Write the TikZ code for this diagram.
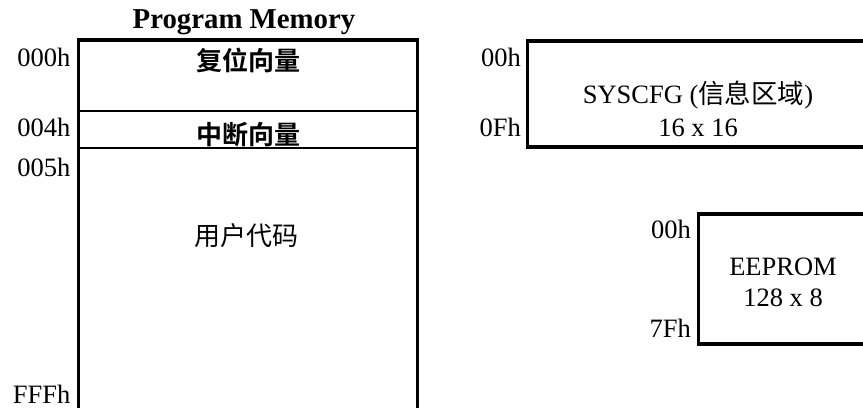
\documentclass[tikz,border=0pt]{standalone}
\usepackage{fontspec}
\setmainfont{Liberation Serif}
\newfontfamily\cjk[BoldFont={Noto Sans CJK SC Bold}]{Noto Sans CJK SC}
\begin{document}
\begin{tikzpicture}[x=1pt,y=-1pt,
  box/.style={line width=3.3pt, line join=miter},
  sepline/.style={line width=2pt},
  addr/.style={anchor=base east, inner sep=0pt, text depth=0pt, font=\fontsize{26.5}{31}\selectfont},
  txt/.style={anchor=base, inner sep=0pt, font=\fontsize{26.5}{31}\selectfont},
  cjktxt/.style={anchor=base, inner sep=0pt, font=\fontsize{26}{31}\selectfont\cjk},
  title/.style={anchor=base, inner sep=0pt, font=\fontsize{28.8}{33}\selectfont\bfseries}]
\useasboundingbox (0,0) rectangle (863,408);
% Program memory
\node[title] (ttl) at (244,28) {Program Memory};
\draw[box] (78.5,408) -- (78.5,40) -- (417.5,40) -- (417.5,408);
\draw[sepline] (78.5,111) -- (417.5,111);
\draw[sepline] (78.5,147.5) -- (417.5,147.5);
\node[addr] (a000) at (70.5,66) {000h};
\node[addr] (a004) at (70.5,136) {004h};
\node[addr] (a005) at (70.5,176) {005h};
\node[addr] (afff) at (70.5,403) {FFFh};
\node[cjktxt] (rst) at (248,70) {\bfseries 复位向量};
\node[cjktxt] (irq) at (248,144) {\bfseries 中断向量};
\node[cjktxt] (usr) at (246,245) {用户代码};
% SYSCFG
\draw[box] (863,41) -- (527.5,41) -- (527.5,147) -- (863,147);
\node[addr] (s00) at (521,66) {00h};
\node[addr] (s0f) at (521,136) {0Fh};
\node[txt] (sys1) at (698,103) {SYSCFG ({\cjk 信息区域})};
\node[txt] (sys2) at (698,136) {16 x 16};
% EEPROM
\draw[box] (863,214) -- (698.5,214) -- (698.5,344) -- (863,344);
\node[addr] (e00) at (691,238) {00h};
\node[addr] (e7f) at (691,337) {7Fh};
\node[txt] (ee1) at (783,275) {EEPROM};
\node[txt] (ee2) at (783,306) {128 x 8};
\end{tikzpicture}
\end{document}
